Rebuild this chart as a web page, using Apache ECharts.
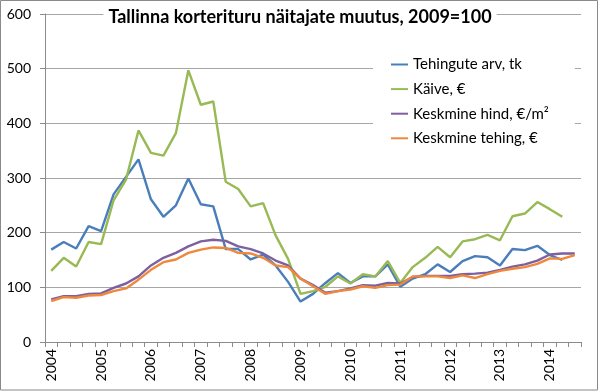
<!DOCTYPE html>
<html><head><meta charset="utf-8">
<script src="https://cdn.jsdelivr.net/npm/echarts@6/dist/echarts.min.js"></script>
<style>html,body{margin:0;padding:0;background:#fff}#c{width:600px;height:392px}</style>
</head><body><div id="c"></div>
<script>
var years = ['2004','2005','2006','2007','2008','2009','2010','2011','2012','2013','2014'];
var quarters = ['I','II','III','IV'];
var categories = [];
years.forEach(function(y){ quarters.forEach(function(q){ if (categories.length < 43) categories.push(y + ' ' + q); }); });
var yTicks = [0,100,200,300,400,500,600];

var tehingud = [169,183,171,212,203,270,302,334,261,229,250,299,252,248,170,170,151,160,140,110,74,88,108,126,108,120,120,142,101,116,124,142,128,148,157,155,140,170,168,176,159,150];
var kaive = [130,154,138,183,179,259,297,387,346,341,382,497,434,440,293,280,248,254,195,152,88,93,101,120,107,124,120,148,108,137,154,174,155,184,188,196,186,230,235,256,243,229];
var hind = [78,84,84,88,89,99,107,120,140,154,163,175,184,187,185,175,170,162,149,140,116,104,90,93,98,104,103,108,107,119,121,121,121,124,125,127,132,138,142,149,160,162,162];
var tehing = [75,82,81,85,86,93,98,114,132,146,151,163,169,173,172,163,162,154,140,137,116,102,88,93,96,102,99,104,105,120,120,120,117,122,117,124,130,134,137,143,153,152,159];

var names = ['Tehingute arv, tk','Käive, €','Keskmine hind, €/m²','Keskmine tehing, €'];
var colors = ['#4A7EBB','#98B954','#7D60A0','#F0883C'];
var datas = [tehingud, kaive, hind, tehing];

var chart = echarts.init(document.getElementById('c'));
var font = 'Lato, "Open Sans", sans-serif';
chart.setOption({
  animation: false,
  textStyle: {fontFamily: font},
  title: {
    text: 'Tallinna korterituru näitajate muutus, 2009=100',
    left: 'center', top: 6,
    padding: [2, 5],
    backgroundColor: '#fff',
    textStyle: {fontFamily: font, fontSize: 18, fontWeight: 'bold', color: '#000'}
  },
  legend: {
    orient: 'vertical',
    left: 373, top: 47,
    padding: [9, 26, 12, 18],
    backgroundColor: '#fff',
    itemWidth: 17, itemHeight: 2, itemGap: 7.6,
    icon: 'rect',
    textStyle: {fontFamily: font, fontSize: 15, color: '#000', lineHeight: 17},
    data: names
  },
  grid: {left: 45, right: 19, top: 14, bottom: 50, containLabel: false},
  xAxis: {
    type: 'category',
    data: categories,
    boundaryGap: true,
    axisLine: {lineStyle: {color: '#8c8c8c', width: 1}},
    axisTick: {show: true, interval: 0, length: 5, lineStyle: {color: '#8c8c8c'}},
    axisLabel: {
      interval: 3, rotate: 90, margin: 7,
      fontFamily: font, fontSize: 14, color: '#000',
      formatter: function(v){ return v.slice(0,4); }
    },
    splitLine: {show: false}
  },
  yAxis: {
    type: 'value', min: yTicks[0], max: yTicks[yTicks.length-1], interval: 100,
    axisLine: {show: true, lineStyle: {color: '#8c8c8c'}},
    axisTick: {show: true, length: 5, lineStyle: {color: '#8c8c8c'}},
    axisLabel: {fontFamily: font, fontSize: 14, color: '#000', margin: 14},
    splitLine: {lineStyle: {color: '#a6a6a6', width: 1}}
  },
  graphic: [{
    type: 'rect', silent: true, z: 100,
    shape: {x: 0.5, y: 0.5, width: 597, height: 389.5},
    style: {fill: 'none', stroke: '#8a8a8a', lineWidth: 1}
  }],
  series: names.map(function(n, i){
    return {
      name: n, type: 'line', data: datas[i], symbol: 'none', smooth: false,
      lineStyle: {width: 2.4, color: colors[i]},
      itemStyle: {color: colors[i]}
    };
  })
});
</script>
</body></html>
